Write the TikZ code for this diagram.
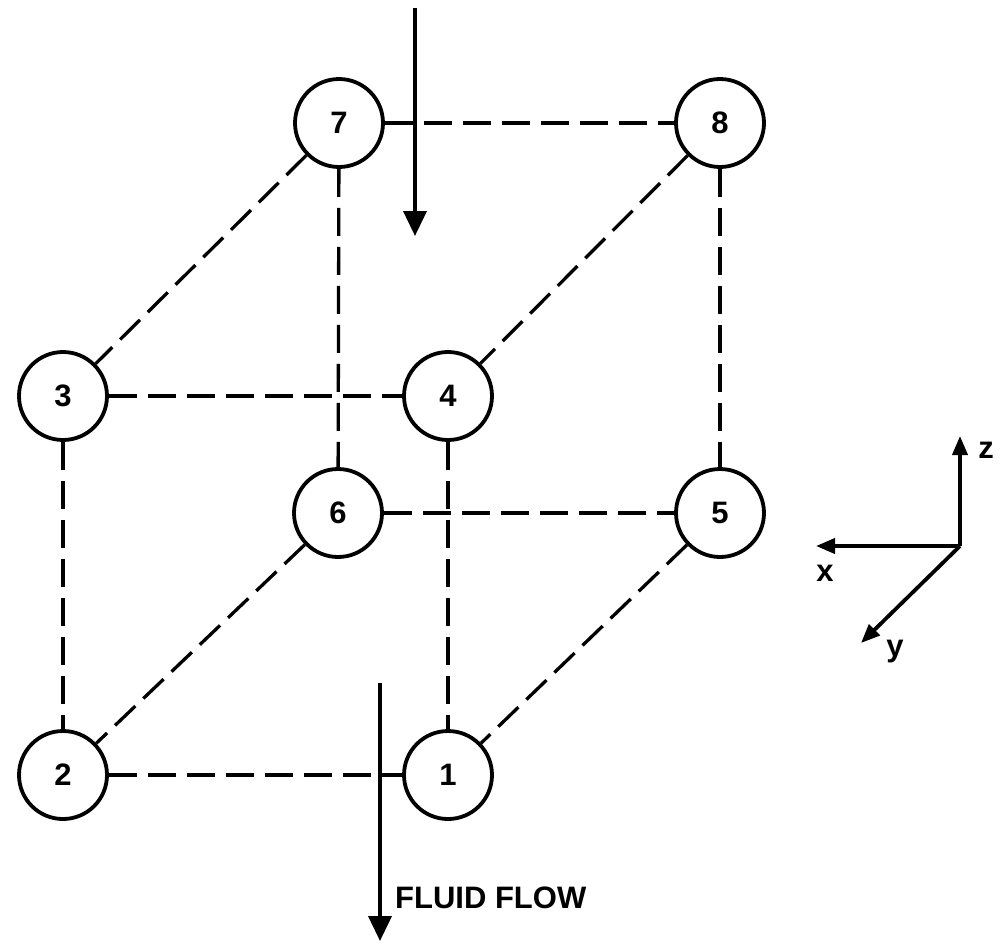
\documentclass[tikz,border=0pt]{standalone}
\usepackage{fontspec}
\setmainfont{Liberation Sans}
\usetikzlibrary{arrows.meta}
\begin{document}
\begin{tikzpicture}[x=1pt,y=-1pt,
  vtx/.style={circle, draw, line width=3.8pt, minimum size=88pt, inner sep=0pt, font=\fontsize{31}{31}\selectfont\bfseries},
  edge/.style={line width=3.3pt, dash pattern=on 28pt off 11pt},
  flow/.style={line width=3.8pt, -{Triangle[width=23pt,length=25pt]}},
  axis/.style={line width=3.8pt, -{Triangle[width=15pt,length=19pt]}},
  lbl/.style={font=\fontsize{31}{31}\selectfont\bfseries, inner sep=0pt}]
\useasboundingbox (0,0) rectangle (1003,943);
% vertices
\node[vtx] (n7) at (339,123) {7};
\node[vtx] (n8) at (720,123) {8};
\node[vtx] (n3) at (63,396) {3};
\node[vtx] (n4) at (448,396) {4};
\node[vtx] (n6) at (338,513) {6};
\node[vtx] (n5) at (720,513) {5};
\node[vtx] (n2) at (63,775) {2};
\node[vtx] (n1) at (448,775) {1};
% edges
\draw[edge] (n7) -- (n8);
\draw[edge] (n7) -- (n3);
\draw[edge] (n7) -- (n6);
\draw[edge] (n8) -- (n4);
\draw[edge] (n8) -- (n5);
\draw[edge] (n3) -- (n4);
\draw[edge] (n3) -- (n2);
\draw[edge] (n6) -- (n5);
\draw[edge] (n6) -- (n2);
\draw[edge] (n4) -- (n1);
\draw[edge] (n5) -- (n1);
\draw[edge] (n2) -- (n1);
% flow arrows
\coordinate (ta) at (415,8);
\coordinate (tb) at (415,236);
\draw[flow] (ta) -- (tb);
\coordinate (ba) at (380,683);
\coordinate (bb) at (380,941);
\draw[flow] (ba) -- (bb);
\node[lbl, anchor=west] (ff) at (395,898) {FLUID FLOW};
% axes
\coordinate (O) at (960,546);
\coordinate (zt) at (960,436);
\coordinate (xt) at (816,546);
\coordinate (yt) at (861,643);
\draw[axis] (O) -- (zt);
\draw[axis] (O) -- (xt);
\draw[axis] (O) -- (yt);
\node[lbl] (zl) at (986,450) {z};
\node[lbl] (xl) at (825,573) {x};
\node[lbl] (yl) at (895,652) {y};
\end{tikzpicture}
\end{document}
